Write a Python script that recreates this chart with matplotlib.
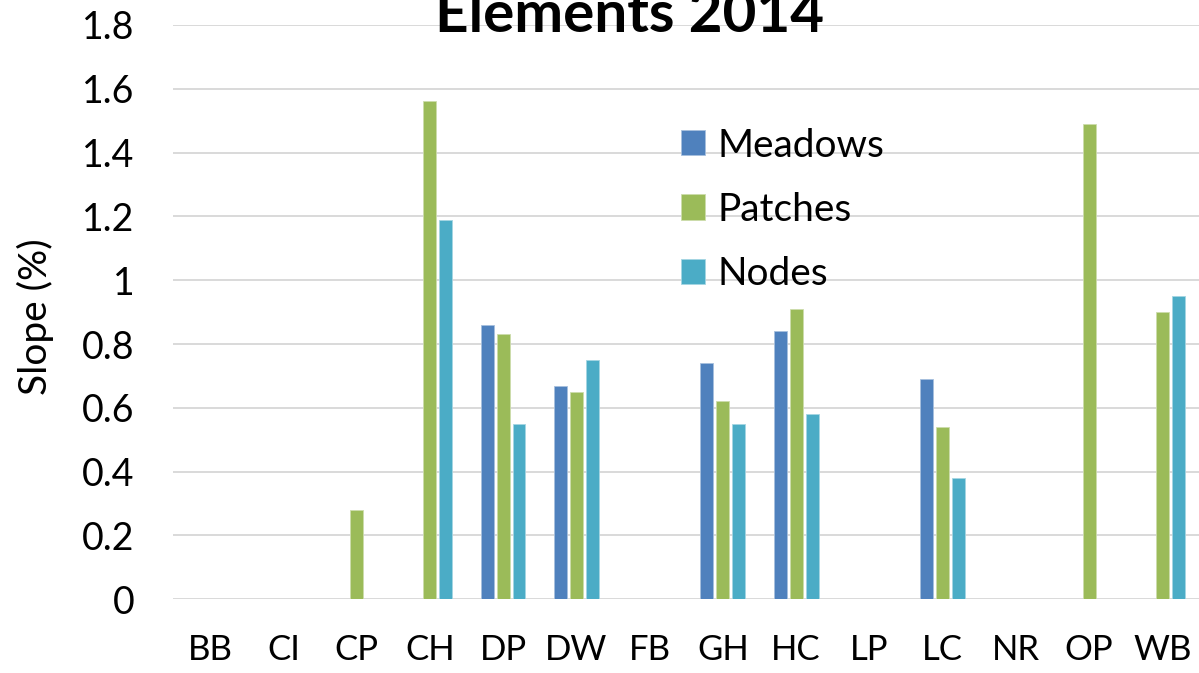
import numpy as np
import matplotlib
matplotlib.use("Agg")
import matplotlib.pyplot as plt

# site codes and slope values (0 = no bar)
sites = ["BB", "CI", "CP", "CH", "DP", "DW", "FB", "GH", "HC", "LP", "LC", "NR", "OP", "WB"]
meadows = [0, 0, 0, 0, 0.86, 0.67, 0, 0.74, 0.84, 0, 0.69, 0, 0, 0]
patches = [0, 0, 0.28, 1.56, 0.83, 0.65, 0, 0.62, 0.91, 0, 0.54, 0, 1.49, 0.90]
nodes = [0, 0, 0, 1.19, 0.55, 0.75, 0, 0.55, 0.58, 0, 0.38, 0, 0, 0.95]

plt.rcParams['font.family'] = ['Lato', 'DejaVu Sans']

fig = plt.figure(figsize=(11.99, 6.73), dpi=100)
ax = fig.add_axes([0.1447, 0.1095, 0.8553, 0.8535])

x = np.arange(len(sites))
step = 0.218
w = 0.175
ax.bar(x - step, meadows, w, color='#4F81BD', edgecolor='#a7c0de', linewidth=0.6, label='Meadows', zorder=3)
ax.bar(x, patches, w, color='#9BBB59', edgecolor='#cddcac', linewidth=0.6, label='Patches', zorder=3)
ax.bar(x + step, nodes, w, color='#4BACC6', edgecolor='#a5d5e2', linewidth=0.6, label='Nodes', zorder=3)

ax.set_xlim(-0.5, len(sites) - 0.5)
ax.set_ylim(0, 1.8)
yt = np.arange(0, 1.81, 0.2)
ax.set_yticks(yt)
ax.set_yticklabels(['0' if v == 0 else ('1' if abs(v - 1) < 1e-9 else f'{v:.1f}') for v in yt])
ax.set_xticks(x)
ax.set_xticklabels(sites)
ax.tick_params(axis='both', length=0)
ax.tick_params(axis='y', pad=28, labelsize=27)
ax.tick_params(axis='x', pad=25, labelsize=25)
ax.yaxis.grid(True, color='#d9d9d9', linewidth=1.4, zorder=0)
for s in ax.spines.values():
    s.set_visible(False)

ax.set_ylabel('Slope (%)', fontsize=28)
ax.yaxis.set_label_coords(-0.117, 0.492)

fig.text(0.5254, 0.953, 'Elements 2014', fontsize=42, fontweight='bold',
         ha='center', va='baseline')

leg = ax.legend(loc='upper left', bbox_to_anchor=(0.568, 0.8105), bbox_transform=fig.transFigure,
                frameon=False, fontsize=28, handlelength=0.62, handleheight=0.62,
                handletextpad=0.31, labelspacing=0.725, borderpad=0, borderaxespad=0)

fig.savefig('out.png', dpi=100)
